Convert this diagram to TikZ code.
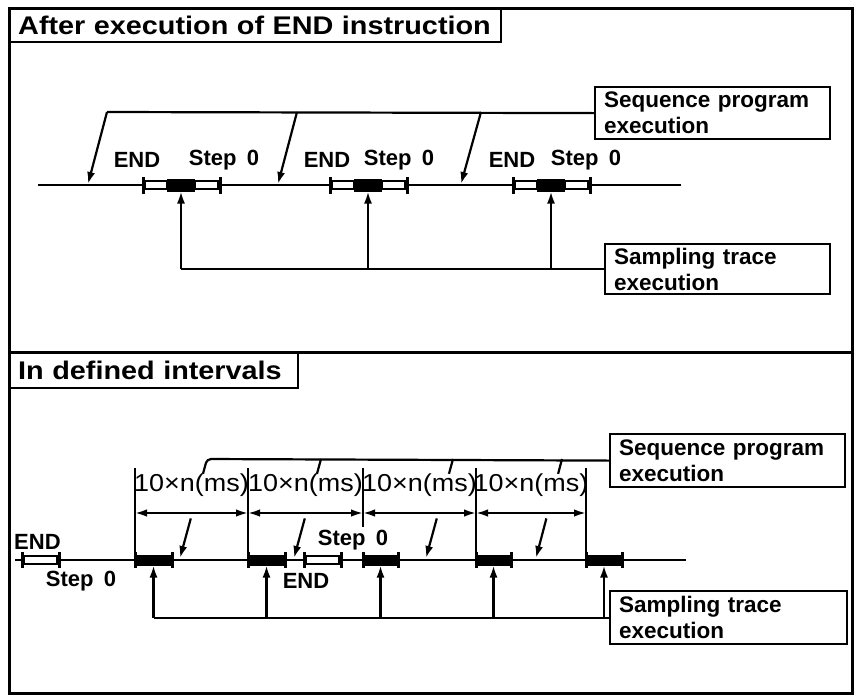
\documentclass[tikz,border=0pt]{standalone}
\usepackage{fontspec}
\setmainfont{Liberation Sans}
\newfontfamily\widesans[FakeStretch=1.13]{Liberation Sans}
\newfontfamily\dimsans[FakeStretch=1.1]{Liberation Sans}
\usetikzlibrary{calc,arrows.meta}

\tikzset{
  frame/.style={line width=3pt},
  wire/.style={line width=2.2pt},
  uptip/.style={-{Latex[length=12pt,width=8pt]}},
  dim/.style={line width=2pt,{Latex[length=12pt,width=7.5pt]}-{Latex[length=12pt,width=7.5pt]}},
  endcap/.style={line width=3pt},
  wbar/.style={draw,fill=white,line width=2pt},
  blk/.style={fill=black,inner sep=0pt,outer sep=0pt},
  title/.style={draw,line width=2.4pt,anchor=north west,align=left,inner xsep=8pt,inner ysep=0pt,
    font=\widesans\fontsize{25.5}{28}\selectfont\bfseries},
  tbox/.style={draw,line width=2.2pt,anchor=north west,align=left,inner xsep=9pt,inner ysep=0pt,
    font=\fontsize{22.5}{26}\selectfont\bfseries},
  lbl/.style={inner sep=0pt,font=\fontsize{22}{24}\selectfont\bfseries},
  dlbl/.style={inner sep=0pt,font=\dimsans\fontsize{24.5}{26}\selectfont},
}

\begin{document}
\begin{tikzpicture}[x=1pt,y=-1pt]
\useasboundingbox (0,0) rectangle (862,697);

% outer frame and divider
\draw[frame] (9,8) rectangle (852,693);
\draw[frame] (9,352) -- (852,352);

% section headings
\node[title,text width=475pt,minimum height=33pt] (h1) at (9,8) {After execution of END instruction};
\node[title,text width=272pt,minimum height=35pt] (h2) at (9,352) {In defined intervals};

% ---------------- upper part: sampling after END ----------------
\node[tbox,text width=217pt,minimum height=52pt] (seq1) at (594,86) {Sequence program\\execution};
\node[tbox,text width=207pt,minimum height=50pt] (smp1) at (604,243) {Sampling trace\\execution};

% time line
\coordinate (ta) at (38,185);
\coordinate (tb) at (681,185);
\draw[wire] (ta) -- (tb);

% END / step 0 blocks
\foreach \a/\i in {143/1,330/2,513/3}{
  \draw[endcap] (\a,177) -- (\a,194);
  \draw[endcap] (\a+77,177) -- (\a+77,194);
  \draw[wbar] (\a+2,181) rectangle (\a+24,189);
  \draw[wbar] (\a+52,181) rectangle (\a+75,189);
  \node[blk,minimum width=28pt,minimum height=13pt] (s\i) at (\a+38,185) {};
}

% labels over the blocks
\node[lbl] (e1) at (137,160) {END};
\node[lbl] (p1) at (224,160) {Step\hspace{4pt} 0};
\node[lbl] (e2) at (327,160) {END};
\node[lbl] (p2) at (399,160) {Step\hspace{4pt} 0};
\node[lbl] (e3) at (512,160) {END};
\node[lbl] (p3) at (586,160) {Step\hspace{4pt} 0};

% sequence program leader with its three pointers
\coordinate (q1) at (107,112);
\coordinate (q2) at (297,112);
\coordinate (q3) at (481,112);
\coordinate (r1) at (88,184);
\coordinate (r2) at (278,184);
\coordinate (r3) at (461,184);
\draw[wire] (seq1.west) -- (q1);
\foreach \i in {1,2,3}{\draw[wire,uptip] (q\i) -- (r\i);}

% sampling trace leader with its three pointers
\foreach \i in {1,2,3}{\coordinate (u\i) at (s\i.center |- smp1.west);}
\draw[wire] (u1) -- (smp1.west);
\foreach \i in {1,2,3}{\draw[wire,uptip] (u\i) -- (s\i.south);}

% ---------------- lower part: sampling in intervals ----------------
\node[tbox,text width=217pt,minimum height=53pt] (seq2) at (609,433) {Sequence program\\execution};
\node[tbox,text width=219pt,minimum height=53pt] (smp2) at (609,590) {Sampling trace\\execution};

% time line
\coordinate (tc) at (15,560);
\coordinate (td) at (686,560);
\draw[wire] (tc) -- (td);

% white END/step 0 bars
\foreach \a in {22,304}{
  \draw[endcap] (\a,552) -- (\a,568);
  \draw[endcap] (\a+37,552) -- (\a+37,568);
  \draw[wbar] (\a+2,556) rectangle (\a+35,564);
}

% black sampling bars
\foreach \c/\w/\i in {153.5/37/1,266.5/37/2,380.5/35/3,493.5/35/4,604/36/5}{
  \node[blk,minimum width=\w pt,minimum height=11pt] (b\i) at (\c,560) {};
  \draw[endcap] (b\i.north west) ++(0,-2.5) -- ++(0,16);
  \draw[endcap] (b\i.north east) ++(0,-2.5) -- ++(0,16);
}

% labels on the time line
\node[lbl,anchor=west] (e4) at (14,542) {END};
\node[lbl] (p4) at (81,581) {Step\hspace{4pt} 0};
\node[lbl] (p5) at (353,540) {Step\hspace{4pt} 0};
\node[lbl] (e5) at (306,581) {END};

% interval boundaries
\foreach \x/\i/\yb in {135/1/554,248/2/554,363/3/527,476/4/554,586/5/554}{
  \coordinate (k\i) at (\x,468);
  \coordinate (kb\i) at (\x,\yb);
  \draw[wire] (k\i) -- (kb\i);
  \coordinate (m\i) at (\x,513);
}
\foreach \i/\j in {1/2,2/3,3/4,4/5}{
  \draw[dim] (m\i) -- (m\j);
  \node[dlbl] (d\i) at ($(k\i)!0.5!(k\j)+(0,17)$) {10×n(ms)};
}

% sequence program leader and its broken pointers
\coordinate (v1) at (207,459);
\coordinate (v2) at (321,459);
\coordinate (v3) at (453,459);
\coordinate (v4) at (562,459);
\coordinate (w1) at (180,558);
\coordinate (w2) at (294,558);
\coordinate (w3) at (426,558);
\coordinate (w4) at (536,558);
\draw[wire,rounded corners=4pt] (seq2.west) -- (v1) -- ($(v1)!0.15!(w1)$);
\foreach \i in {2,3,4}{\draw[wire] (v\i) -- ($(v\i)!0.15!(w\i)$);}
\foreach \i in {1,2,3,4}{\draw[wire,uptip] ($(v\i)!0.6!(w\i)$) -- (w\i);}

% sampling trace leader and its five pointers
\foreach \i in {1,...,5}{\coordinate (z\i) at (b\i.center |- smp2.west);}
\draw[wire] (z1) -- (smp2.west);
\foreach \i in {1,...,5}{\draw[wire,uptip] (z\i) -- (b\i.south);}

\end{tikzpicture}
\end{document}
